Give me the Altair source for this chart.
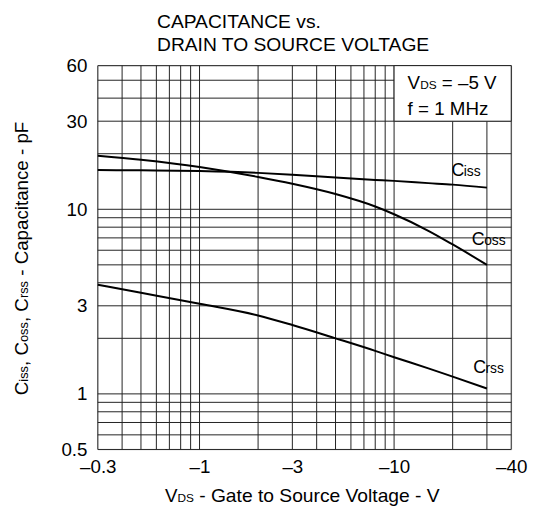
import altair as alt
import pandas as pd

# ---- data ----
V = [0.3, 0.5, 1, 2, 3, 5, 8, 10, 15, 20, 30]
CISS = [16.3, 16.25, 16.1, 15.75, 15.4, 14.85, 14.42, 14.25, 13.86, 13.6, 13.1]
COSS = [19.5, 18.54, 16.95, 14.96, 13.74, 12.09, 10.35, 9.4, 7.65, 6.45, 5.0]
CRSS = [3.9, 3.53, 3.08, 2.66, 2.36, 2.0, 1.71, 1.58, 1.375, 1.24, 1.07]

X_TICKS = [0.3, 1, 3, 10, 40]
Y_TICKS = [0.5, 1, 3, 10, 30, 60]
X_GRID = [0.3, 0.4, 0.5, 0.6, 0.7, 0.8, 0.9, 1, 2, 3, 4, 5, 6, 7, 8, 9, 10, 20, 30, 40]
Y_GRID = [0.5, 0.6, 0.7, 0.8, 0.9, 1, 2, 3, 4, 5, 6, 7, 8, 9, 10, 20, 30, 40, 50, 60]

TITLE_LINES = ["CAPACITANCE vs.", "DRAIN TO SOURCE VOLTAGE"]
CURVE_NAMES = ["iss", "oss", "rss"]
LABEL_V = [19.7, 25.1, 25.5]
LABEL_C = [15.1, 6.38, 1.29]
BOX = {"v": [10], "v2": [40], "c": [30], "c2": [60]}

FONT = "Liberation Sans"
INK = "#222222"

XS = alt.Scale(type="log", domain=[0.3, 40], nice=False)
YS = alt.Scale(type="log", domain=[0.5, 60], nice=False)
XA = alt.Axis(values=X_TICKS, labelExpr="'\u2013' + datum.value", grid=False, ticks=False,
              domain=False, title=None, labelFont=FONT, labelFontSize=19, labelColor="black",
              labelPadding=8, labelFlush=False, labelOverlap=False)
YA = alt.Axis(values=Y_TICKS, labelExpr="'' + datum.value", grid=False, ticks=False,
              domain=False, title=None, labelFont=FONT, labelFontSize=19, labelColor="black",
              labelPadding=11, labelFlush=False, labelOverlap=False)

def X(f="v"):
    return alt.X(f + ":Q", scale=XS, axis=XA)

def Y(f="c"):
    return alt.Y(f + ":Q", scale=YS, axis=YA)

curves = pd.concat([
    pd.DataFrame({"v": V, "c": CISS, "s": "Ciss"}),
    pd.DataFrame({"v": V, "c": COSS, "s": "Coss"}),
    pd.DataFrame({"v": V, "c": CRSS, "s": "Crss"}),
])

vgrid = alt.Chart(pd.DataFrame({"v": X_GRID})).mark_rule(color=INK, strokeWidth=1).encode(x=X())
hgrid = alt.Chart(pd.DataFrame({"c": Y_GRID})).mark_rule(color=INK, strokeWidth=1).encode(y=Y())

box = alt.Chart(pd.DataFrame(BOX)).mark_rect(fill="white", stroke=INK, strokeWidth=1).encode(
    x=X(), x2="v2:Q", y=Y(), y2="c2:Q")

lines = alt.Chart(curves).mark_line(color="black", strokeWidth=2, interpolate="monotone").encode(
    x=X(), y=Y(), detail="s:N")

lab = pd.DataFrame({"v": LABEL_V, "c": LABEL_C, "t": ["C"] * 3, "sub": CURVE_NAMES})
labC = alt.Chart(lab).mark_text(align="left", baseline="alphabetic", font=FONT, fontSize=18,
                                color="black").encode(x=X(), y=Y(), text="t:N")
labS = alt.Chart(lab).mark_text(align="left", baseline="alphabetic", font=FONT, fontSize=14,
                                color="black", dx=12.5).encode(x=X(), y=Y(), text="sub:N")


def txt(s, x, y, size=19, angle=0):
    kw = dict(align="left", baseline="alphabetic", font=FONT, fontSize=size, color="black")
    if angle:
        kw["angle"] = angle
    return alt.Chart(pd.DataFrame({"t": [s]})).mark_text(**kw).encode(
        x=alt.value(x), y=alt.value(y), text="t:N")


texts = [
    txt(TITLE_LINES[0], 60, -38, 19.5),
    txt(TITLE_LINES[1], 60, -15, 19.5),
    # annotation box
    txt("V", 314, 23.7),
    txt("DS", 326.7, 23.7, 12),
    txt("= \u20135 V", 348.7, 23.7),
    txt("f = 1 MHz", 314, 49.7),
    # x title
    txt("V", 68, 442),
    txt("DS", 80.7, 442, 12),
    txt("- Gate to Source Voltage - V", 102.7, 442, 19.5),
    # y title (rotated)
    txt("C", -71, 334, 19, 270),
    txt("iss", -71, 334 - 13.7, 13, 270),
    txt(", C", -71, 334 - 29.6, 19, 270),
    txt("oss", -71, 334 - 53.9, 13, 270),
    txt(", C", -71, 334 - 74.1, 19, 270),
    txt("rss", -71, 334 - 98.4, 13, 270),
    txt("- Capacitance - pF", -71, 334 - 121.0, 19, 270),
]

chart = alt.layer(vgrid, hgrid, box, lines, labC, labS, *texts).properties(
    width=419, height=389,
    autosize=alt.AutoSizeParams(type="none"),
    padding={"left": 91, "top": 55, "right": 17, "bottom": 62},
).configure_view(stroke=INK, strokeWidth=1).configure(background="white")

chart.save("out.html", embed_options={"renderer": "svg", "actions": False})
